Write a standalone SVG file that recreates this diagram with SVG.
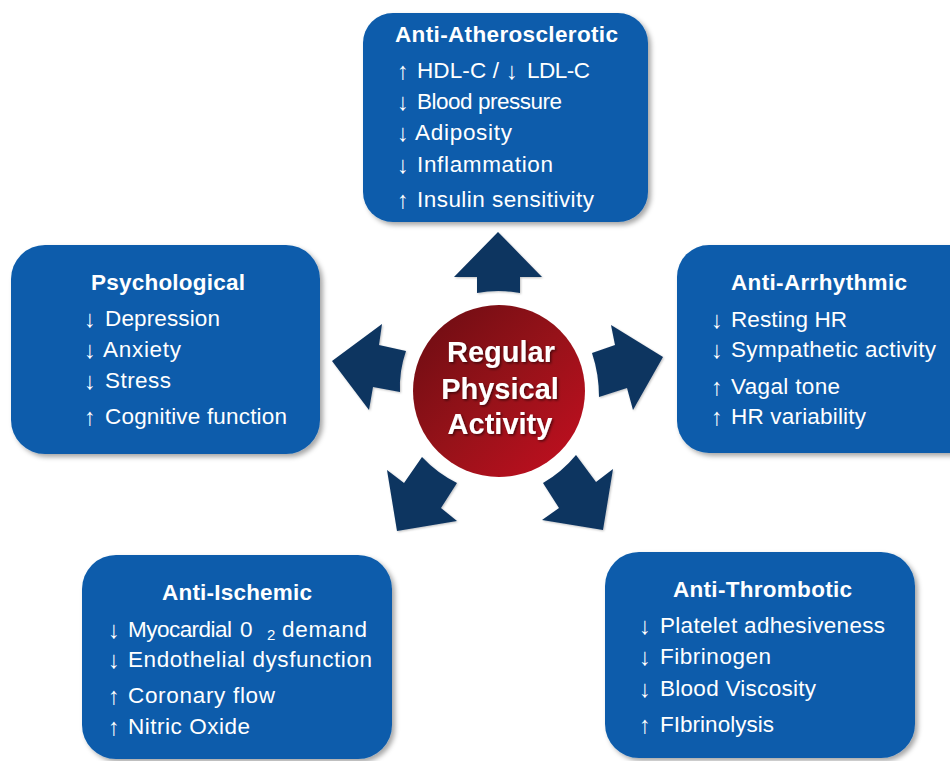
<svg xmlns="http://www.w3.org/2000/svg" width="950" height="761" viewBox="0 0 950 761">
  <defs>
    <style>
      .box { fill: #0b5cab; filter: url(#boxShadow); }
      .title { font-family: "Liberation Sans", Arial, sans-serif; font-weight: bold; font-size: 22.5px; fill: #ffffff; }
      .item { font-family: "Liberation Sans", Arial, sans-serif; font-size: 22.5px; fill: #ffffff; }
      .ar { font-family: "Liberation Sans", Arial, sans-serif; font-size: 24px; fill: #ffffff; text-anchor: middle; }
      .sub { font-size: 15px; }
      .pointer { fill: #0c3461; filter: url(#arrowShadow); }
      .hub-text { font-family: "Liberation Sans", Arial, sans-serif; font-weight: bold; font-size: 29px; fill: #ffffff; text-anchor: middle; filter: url(#textShadow); }
    </style>
    <filter id="boxShadow" x="-10%" y="-10%" width="125%" height="125%">
      <feDropShadow dx="3" dy="3" stdDeviation="2.5" flood-color="#000000" flood-opacity="0.35"/>
    </filter>
    <filter id="arrowShadow" x="-20%" y="-20%" width="140%" height="140%">
      <feDropShadow dx="1" dy="1" stdDeviation="1" flood-color="#000000" flood-opacity="0.25"/>
    </filter>
    <filter id="textShadow" x="-10%" y="-20%" width="120%" height="140%">
      <feDropShadow dx="1.5" dy="1.5" stdDeviation="1" flood-color="#000000" flood-opacity="0.5"/>
    </filter>
    <linearGradient id="hubFill" x1="0" y1="0" x2="1" y2="1">
      <stop offset="0" stop-color="#6a0c12"/>
      <stop offset="0.5" stop-color="#961219"/>
      <stop offset="1" stop-color="#c50e20"/>
    </linearGradient>
  </defs>

  <rect width="950" height="761" fill="#ffffff"/>

  <!-- outward arrows from the hub -->
  <g id="connectors">
    <path class="pointer" d="M477,293 L477,277 L454,277 L498,232 L542,277 L520,277 L520,293 Q498,289 477,293 Z"/>
    <path class="pointer" d="M592,353 L615,345 L611,325 L663,357 L633,410 L627,388 L599,397 Q599,374 592,353 Z"/>
    <path class="pointer" d="M543,483 L559,508 L542,520 L603,530 L613,469 L596,482 L576,455 Q562,472 543,483 Z"/>
    <path class="pointer" d="M422,457 Q437,473 457,483 L441,508 L457,521 L397,531 L387,470 L404,483 Z"/>
    <path class="pointer" d="M332,361 L382,324 L379,345 L406,351 Q399,371 400,392 L373,387 L369,410 Z"/>
  </g>

  <!-- central hub -->
  <g id="hub">
    <circle cx="499" cy="391" r="86" fill="url(#hubFill)"/>
    <text class="hub-text" x="501" y="362">Regular</text>
    <text class="hub-text" x="500" y="399">Physical</text>
    <text class="hub-text" x="500" y="434">Activity</text>
  </g>

  <g id="anti-atherosclerotic">
    <rect class="box" x="363" y="13" width="285" height="209" rx="30"/>
    <text class="title" x="395" y="42" textLength="223" lengthAdjust="spacing">Anti-Atherosclerotic</text>
    <text class="ar" x="403" y="79">↑</text>
    <text class="item" x="417" y="78" textLength="82" lengthAdjust="spacing">HDL-C /</text>
    <text class="ar" x="512" y="79">↓</text>
    <text class="item" x="527" y="78" textLength="63" lengthAdjust="spacing">LDL-C</text>
    <text class="ar" x="403" y="110">↓</text>
    <text class="item" x="417" y="109" textLength="145" lengthAdjust="spacing">Blood pressure</text>
    <text class="ar" x="403" y="141">↓</text>
    <text class="item" x="415" y="140" textLength="97" lengthAdjust="spacing">Adiposity</text>
    <text class="ar" x="403" y="173">↓</text>
    <text class="item" x="417" y="172" textLength="136" lengthAdjust="spacing">Inflammation</text>
    <text class="ar" x="403" y="208">↑</text>
    <text class="item" x="417" y="207" textLength="177" lengthAdjust="spacing">Insulin sensitivity</text>
  </g>

  <g id="psychological">
    <rect class="box" x="11" y="245" width="309" height="209" rx="34"/>
    <text class="title" x="91" y="290" textLength="154" lengthAdjust="spacing">Psychological</text>
    <text class="ar" x="90" y="327">↓</text>
    <text class="item" x="105" y="326" textLength="115" lengthAdjust="spacing">Depression</text>
    <text class="ar" x="90" y="358">↓</text>
    <text class="item" x="103" y="357" textLength="78" lengthAdjust="spacing">Anxiety</text>
    <text class="ar" x="90" y="389">↓</text>
    <text class="item" x="105" y="388" textLength="66" lengthAdjust="spacing">Stress</text>
    <text class="ar" x="90" y="425">↑</text>
    <text class="item" x="105" y="424" textLength="182" lengthAdjust="spacing">Cognitive function</text>
  </g>

  <g id="anti-arrhythmic">
    <rect class="box" x="677" y="245" width="310" height="208" rx="32"/>
    <text class="title" x="731" y="290" textLength="176" lengthAdjust="spacing">Anti-Arrhythmic</text>
    <text class="ar" x="717" y="328">↓</text>
    <text class="item" x="731" y="327" textLength="116" lengthAdjust="spacing">Resting HR</text>
    <text class="ar" x="717" y="358">↓</text>
    <text class="item" x="731" y="357" textLength="205" lengthAdjust="spacing">Sympathetic activity</text>
    <text class="ar" x="717" y="395">↑</text>
    <text class="item" x="731" y="394" textLength="109" lengthAdjust="spacing">Vagal tone</text>
    <text class="ar" x="717" y="425">↑</text>
    <text class="item" x="731" y="424" textLength="135" lengthAdjust="spacing">HR variability</text>
  </g>

  <g id="anti-ischemic">
    <rect class="box" x="82" y="555" width="310" height="204" rx="34"/>
    <text class="title" x="162" y="600" textLength="150" lengthAdjust="spacing">Anti-Ischemic</text>
    <text class="ar" x="114" y="638">↓</text>
    <text class="item" x="128" y="637" textLength="104" lengthAdjust="spacing">Myocardial</text>
    <text class="item" x="240" y="637">0</text>
    <text class="item sub" x="267" y="640">2</text>
    <text class="item" x="282" y="637" textLength="85" lengthAdjust="spacing">demand</text>
    <text class="ar" x="114" y="668">↓</text>
    <text class="item" x="128" y="667" textLength="244" lengthAdjust="spacing">Endothelial dysfunction</text>
    <text class="ar" x="114" y="704">↑</text>
    <text class="item" x="128" y="703" textLength="147" lengthAdjust="spacing">Coronary flow</text>
    <text class="ar" x="114" y="735">↑</text>
    <text class="item" x="128" y="734" textLength="122" lengthAdjust="spacing">Nitric Oxide</text>
  </g>

  <g id="anti-thrombotic">
    <rect class="box" x="605" y="552" width="310" height="206" rx="34"/>
    <text class="title" x="673" y="597" textLength="179" lengthAdjust="spacing">Anti-Thrombotic</text>
    <text class="ar" x="645" y="634">↓</text>
    <text class="item" x="660" y="633" textLength="225" lengthAdjust="spacing">Platelet adhesiveness</text>
    <text class="ar" x="645" y="665">↓</text>
    <text class="item" x="660" y="664" textLength="111" lengthAdjust="spacing">Fibrinogen</text>
    <text class="ar" x="645" y="697">↓</text>
    <text class="item" x="660" y="696" textLength="156" lengthAdjust="spacing">Blood Viscosity</text>
    <text class="ar" x="645" y="733">↑</text>
    <text class="item" x="660" y="732" textLength="114" lengthAdjust="spacing">FIbrinolysis</text>
  </g>
</svg>
